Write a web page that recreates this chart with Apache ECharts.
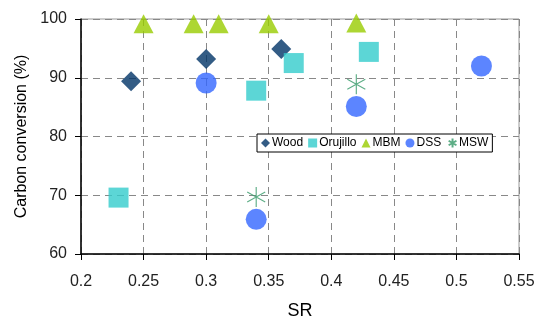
<!DOCTYPE html>
<html>
<head>
<meta charset="utf-8">
<script src="https://cdn.jsdelivr.net/npm/echarts@6/dist/echarts.min.js"></script>
<style>
  html, body { margin: 0; padding: 0; background: #fff; }
  #chart { width: 541px; height: 320px; }
</style>
</head>
<body>
<div id="chart"></div>
<script>
// data: [SR, carbon conversion %]
var wood = [[0.24, 89.4], [0.30, 93.2], [0.36, 94.9]];
var orujillo = [[0.23, 69.6], [0.34, 87.8], [0.37, 92.5], [0.43, 94.4]];
var mbm = [[0.25, 99.2], [0.29, 99.2], [0.31, 99.2], [0.35, 99.2], [0.42, 99.3]];
var dss = [[0.30, 89.1], [0.34, 65.9], [0.42, 85.1], [0.52, 92.0]];
var msw = [[0.34, 69.7], [0.42, 88.9]];

var xTicks = [0.2, 0.25, 0.3, 0.35, 0.4, 0.45, 0.5, 0.55];
var yTicks = [60, 70, 80, 90, 100];

var font = "'Liberation Sans Narrow', 'Arial Narrow', 'Liberation Sans', sans-serif";
var asterisk = 'path://M0,-10L0,10M-8.66,-5L8.66,5M-8.66,5L8.66,-5';

var myChart = echarts.init(document.getElementById('chart'));

var option = {
  animation: false,
  textStyle: { fontFamily: font },
  grid: {
    left: 81, right: 22, top: 19, bottom: 66,
    containLabel: false, outerBoundsMode: 'none',
    show: true, borderColor: '#999', borderWidth: 1
  },
  legend: {
    left: 257, top: 134,
    orient: 'horizontal',
    backgroundColor: '#fff',
    borderColor: '#000', borderWidth: 1,
    padding: [2, 4, 2, 4],
    itemGap: 5,
    itemWidth: 9, itemHeight: 9,
    textStyle: { fontSize: 12, color: '#000', fontFamily: font, padding: [0, 0, 0, -3] },
    data: [
      { name: 'Wood', icon: 'diamond' },
      { name: 'Orujillo', icon: 'rect' },
      { name: 'MBM', icon: 'triangle' },
      { name: 'DSS', icon: 'circle' },
      { name: 'MSW', icon: asterisk }
    ]
  },
  xAxis: {
    type: 'value',
    min: xTicks[0], max: xTicks[xTicks.length - 1], interval: 0.05,
    name: 'SR', nameLocation: 'middle', nameGap: 48,
    nameTextStyle: { fontSize: 18, color: '#000', fontFamily: font },
    axisLine: { show: true, lineStyle: { color: '#000', width: 1.5 } },
    axisTick: { show: true, length: 6, lineStyle: { color: '#000' } },
    axisLabel: {
      fontSize: 16, color: '#222', margin: 20, fontFamily: font,
      formatter: function (v) { return String(Math.round(v * 100) / 100); }
    },
    splitLine: { show: true, lineStyle: { color: '#888', type: [7, 5] } }
  },
  yAxis: {
    type: 'value',
    min: yTicks[0], max: yTicks[yTicks.length - 1], interval: 10,
    name: 'Carbon conversion (%)', nameLocation: 'middle', nameGap: 50,
    nameTextStyle: { fontSize: 16, color: '#000', fontFamily: font },
    axisLine: { show: true, lineStyle: { color: '#000', width: 1.5 } },
    axisTick: { show: true, length: 6, lineStyle: { color: '#000' } },
    axisLabel: { fontSize: 16, color: '#222', margin: 14, fontFamily: font },
    splitLine: { show: true, lineStyle: { color: '#888', type: [7, 5] } }
  },
  series: [
    { name: 'Wood', type: 'scatter', data: wood, symbol: 'diamond', symbolSize: 20,
      itemStyle: { color: '#003366' } },
    { name: 'Orujillo', type: 'scatter', data: orujillo, symbol: 'rect', symbolSize: 20,
      itemStyle: { color: '#33CCCC' } },
    { name: 'MBM', type: 'scatter', data: mbm, symbol: 'triangle', symbolSize: [20, 19],
      itemStyle: { color: '#99CC00' } },
    { name: 'DSS', type: 'scatter', data: dss, symbol: 'circle', symbolSize: 21,
      itemStyle: { color: '#3366FF' } },
    { name: 'MSW', type: 'scatter', data: msw, symbol: asterisk, symbolSize: [18, 20],
      itemStyle: { color: 'none', borderColor: '#339966', borderWidth: 1.2 } }
  ]
};

myChart.setOption(option);
</script>
</body>
</html>
